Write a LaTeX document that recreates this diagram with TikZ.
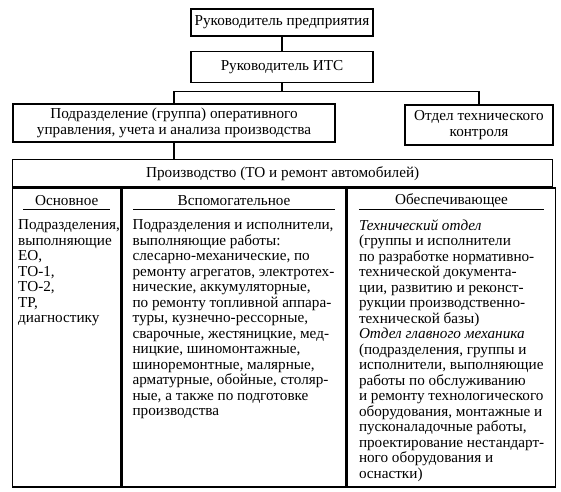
\documentclass[tikz,border=0pt]{standalone}
\usepackage{fontspec}
\setmainfont{Liberation Serif}
\usetikzlibrary{positioning}
\newcommand\orgsize{\fontsize{15.2}{15.5}\selectfont}
\tikzset{
  orgbox/.style={
    draw,
    line width=1.4pt,
    inner sep=2pt,
    align=center,
    font=\orgsize
  },
  tabbox/.style={
    draw,
    line width=1.4pt,
    anchor=north west,
    inner sep=0pt,
    font=\orgsize
  },
  colhead/.style={
    minimum height=18pt,
    inner sep=0pt,
    font=\orgsize
  },
  coltext/.style={
    inner sep=0pt,
    align=left,
    font=\orgsize
  },
  link/.style={line width=1.1pt},
  rule/.style={line width=1.1pt}
}

\begin{document}
\begin{tikzpicture}[x=1pt,y=-1pt]
\useasboundingbox (0,0) rectangle (561,491);
% management chain
\node[orgbox, minimum width=182pt, minimum height=27pt] (head) at (282,22.5) {Руководитель предприятия};
\node[orgbox, minimum width=182pt, minimum height=31pt, below=14pt of head] (its) {Руководитель ИТС};
\node[orgbox, minimum width=322pt, minimum height=38pt] (ops) at (174,123) {Подразделение (группа) оперативного\\управления, учета и анализа производства};
\node[orgbox, minimum width=148pt, minimum height=40pt] (otk) at (479,125) {Отдел технического\\контроля};
\draw[link] (head) -- (its);
\draw[link] (its.south) -- ++(0,8) coordinate (bus);
\draw[link] (ops.north) |- (bus) -| (otk.north);
% production table
\node[tabbox, minimum width=540pt, minimum height=27pt] (prod) at (12,159) {Производство (ТО и ремонт автомобилей)};
\node[tabbox, minimum width=108pt, minimum height=299pt] (main) at (prod.south west) {};
\node[tabbox, minimum width=224pt, minimum height=299pt] (aux) at (main.north east) {};
\node[tabbox, minimum width=208pt, minimum height=299pt] (supp) at (aux.north east) {};
\draw[link] (ops.south) -- (prod.north -| ops.south);
% column heads
\node[colhead, minimum width=87pt, below=4pt of main.north] (mainhd) {Основное};
\node[colhead, minimum width=201pt, below=4pt of aux.north] (auxhd) {Вспомогательное};
\node[colhead, minimum width=185pt, below=4pt of supp.north] (supphd) {Обеспечивающее};
\draw[rule] (mainhd.south west) -- (mainhd.south east);
\draw[rule] (auxhd.south west) -- (auxhd.south east);
\draw[rule] (supphd.south west) -- (supphd.south east);
% column texts
\node[coltext, below right=32pt and 6pt of main.north west] (maintxt) {Подразделения,\\выполняющие\\ЕО,\\ТО-1,\\ТО-2,\\ТР,\\диагностику};
\node[coltext, below right=32pt and 11pt of aux.north west] (auxtxt) {Подразделения и исполнители,\\выполняющие работы:\\слесарно-механические, по\\ремонту агрегатов, электротех-\\нические, аккумуляторные,\\по ремонту топливной аппара-\\туры, кузнечно-рессорные,\\сварочные, жестяницкие, мед-\\ницкие, шиномонтажные,\\шиноремонтные, малярные,\\арматурные, обойные, столяр-\\ные, а также по подготовке\\производства};
\node[coltext, below right=32pt and 12pt of supp.north west] (supptxt) {\textit{Технический отдел}\\(группы и исполнители\\по разработке нормативно-\\технической документа-\\ции, развитию и реконст-\\рукции производственно-\\технической базы)\\\textit{Отдел главного механика}\\(подразделения, группы и\\исполнители, выполняющие\\работы по обслуживанию\\и ремонту технологического\\оборудования, монтажные и\\пусконаладочные работы,\\проектирование нестандарт-\\ного оборудования и\\оснастки)};
\end{tikzpicture}
\end{document}
